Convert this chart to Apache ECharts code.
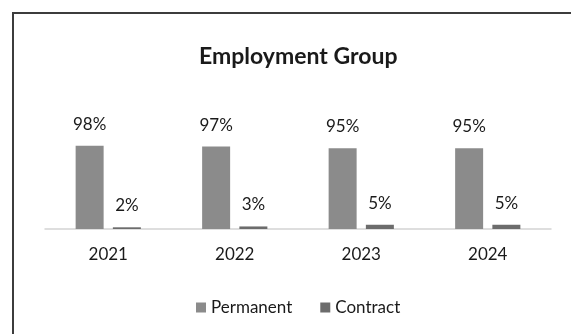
<!DOCTYPE html>
<html>
<head>
<meta charset="utf-8">
<script src="https://cdn.jsdelivr.net/npm/echarts@6/dist/echarts.min.js"></script>
<style>
html,body{margin:0;padding:0;background:#fff;}
#chart{width:571px;height:334px;}
</style>
</head>
<body>
<div id="chart"></div>
<script>
var categories = ['2021', '2022', '2023', '2024'];
var permanent = [98, 97, 95, 95];
var contract = [2, 3, 5, 5];
var seriesNames = ['Permanent', 'Contract'];
var titleText = 'Employment Group';

var FONT = 'Lato, "Open Sans", sans-serif';
var chart = echarts.init(document.getElementById('chart'));
chart.setOption({
  animation: false,
  backgroundColor: '#ffffff',
  graphic: [{
    type: 'rect',
    shape: { x: 13, y: 13, width: 700, height: 500 },
    style: { fill: 'none', stroke: '#3c3c3c', lineWidth: 2 },
    silent: true
  }],
  title: {
    text: titleText,
    left: 194,
    top: 40,
    textStyle: { fontFamily: FONT, fontSize: 23, fontWeight: 'bold', color: '#1a1a1a' }
  },
  legend: {
    data: seriesNames,
    left: 191,
    top: 294,
    itemWidth: 10,
    itemHeight: 10,
    itemGap: 28,
    icon: 'rect',
    textStyle: { fontFamily: FONT, fontSize: 17, color: '#1a1a1a' }
  },
  grid: { left: 45, right: 20, top: 144, bottom: 105 },
  xAxis: {
    type: 'category',
    data: categories,
    axisLine: { lineStyle: { color: '#d4d4d4', width: 1.5 } },
    axisTick: { show: false },
    axisLabel: { fontFamily: FONT, fontSize: 17, color: '#1a1a1a', margin: 17 }
  },
  yAxis: {
    type: 'value',
    min: 0,
    max: 100,
    show: false,
    splitLine: { show: false }
  },
  series: [{
    name: seriesNames[0],
    type: 'bar',
    data: permanent,
    barWidth: 28,
    barGap: '33%',
    itemStyle: { color: '#8b8b8b' },
    label: {
      show: true, position: 'top', distance: 13,
      formatter: '{c}%',
      fontFamily: FONT, fontSize: 17, color: '#1a1a1a'
    }
  }, {
    name: seriesNames[1],
    type: 'bar',
    data: contract,
    barWidth: 28,
    itemStyle: { color: '#6c6c6c' },
    label: {
      show: true, position: 'top', distance: 13,
      formatter: '{c}%',
      fontFamily: FONT, fontSize: 17, color: '#1a1a1a'
    }
  }]
});
</script>
</body>
</html>
